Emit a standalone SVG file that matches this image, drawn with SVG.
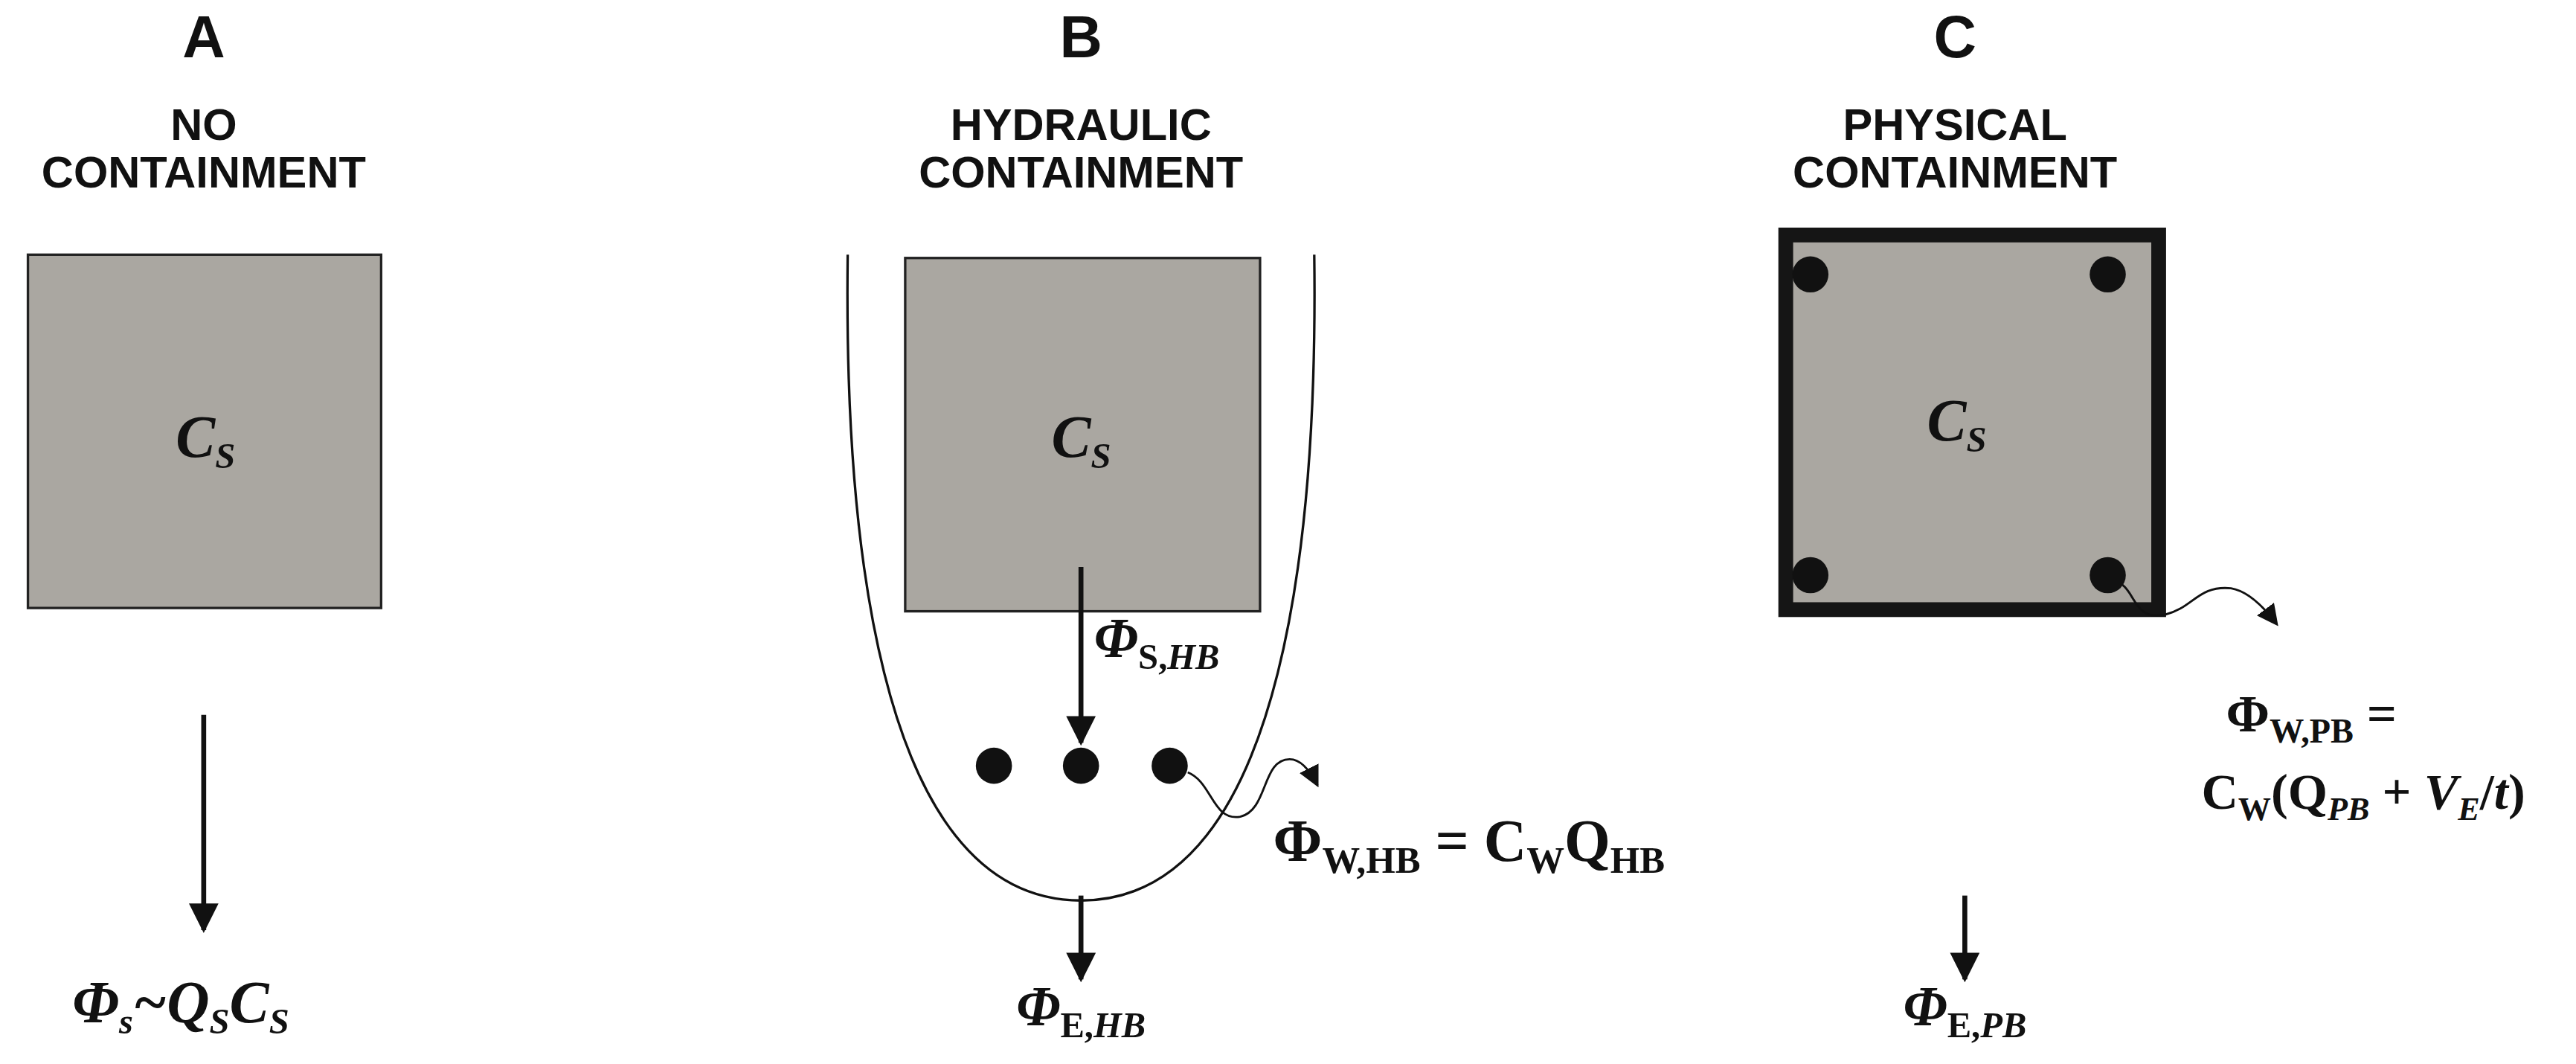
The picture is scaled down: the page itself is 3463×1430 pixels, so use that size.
<svg xmlns="http://www.w3.org/2000/svg" width="3463" height="1430" viewBox="0 0 3463 1430">
<style>
.t{font-family:"Liberation Sans",Arial,sans-serif;font-weight:bold;fill:#111;text-anchor:middle}
.m{font-family:"Liberation Serif","DejaVu Serif",serif;font-weight:bold;fill:#111}
.box{fill:#aaa7a1;stroke:#222;stroke-width:1.5}
.ar{stroke:#111;stroke-width:3;fill:none;marker-end:url(#ah)}
.sq{stroke:#111;stroke-width:1.3;fill:none;marker-end:url(#ah2)}
</style>
<defs>
<marker id="ah" viewBox="0 0 10 10" refX="9" refY="5" markerWidth="6" markerHeight="6" orient="auto" markerUnits="strokeWidth"><path d="M0,0 L10,5 L0,10 z" fill="#111"/></marker>
<marker id="ah2" viewBox="0 0 10 10" refX="9" refY="5" markerWidth="10" markerHeight="10" orient="auto" markerUnits="strokeWidth"><path d="M0,0 L10,5 L0,10 z" fill="#111"/></marker>
</defs>
<rect width="3463" height="1430" fill="#fff"/>
<g transform="scale(2.2085)">
<g id="panelA">
<text class="t" x="124" y="35" font-size="36">A</text>
<text class="t" x="124" y="85" font-size="27">NO</text>
<text class="t" x="124" y="114" font-size="27">CONTAINMENT</text>
<rect class="box" x="17" y="155" width="215" height="215"/>
<text class="m" x="107" y="278" font-size="36" font-style="italic">C<tspan font-size="22" dy="7">S</tspan></text>
<text class="m" x="110" y="622" font-size="36" text-anchor="middle" font-style="italic">Φ<tspan font-size="22" dy="7">s</tspan><tspan dy="-7">~Q</tspan><tspan font-size="22" dy="7">S</tspan><tspan dy="-7">C</tspan><tspan font-size="22" dy="7">S</tspan></text>
</g>
<g id="panelB">
<text class="t" x="658" y="35" font-size="36">B</text>
<text class="t" x="658" y="85" font-size="27">HYDRAULIC</text>
<text class="t" x="658" y="114" font-size="27">CONTAINMENT</text>
<path d="M516,155 C514,310 530,548 658,548 C786,548 802,310 800,155" fill="none" stroke="#111" stroke-width="1.5"/>
<rect class="box" x="551" y="157" width="216" height="215"/>
<text class="m" x="640" y="278" font-size="36" font-style="italic">C<tspan font-size="22" dy="7">S</tspan></text>
<text class="m" x="666" y="400" font-size="34" font-style="italic">Φ<tspan font-size="22" dy="7" font-style="normal">S,</tspan><tspan font-size="22">HB</tspan></text>
<circle cx="605" cy="466" r="11" fill="#111"/><circle cx="658" cy="466" r="11" fill="#111"/><circle cx="712" cy="466" r="11" fill="#111"/>
<text class="m" x="775" y="524" font-size="36">Φ<tspan font-size="23" dy="7">W,HB</tspan><tspan dy="-7"> = C</tspan><tspan font-size="23" dy="7">W</tspan><tspan dy="-7">Q</tspan><tspan font-size="23" dy="7">HB</tspan></text>
<text class="m" x="658" y="624" font-size="34" text-anchor="middle" font-style="italic">Φ<tspan font-size="22" dy="7" font-style="normal">E,</tspan><tspan font-size="22">HB</tspan></text>
</g>
<g id="panelC">
<text class="t" x="1190" y="35" font-size="36">C</text>
<text class="t" x="1190" y="85" font-size="27">PHYSICAL</text>
<text class="t" x="1190" y="114" font-size="27">CONTAINMENT</text>
<rect x="1087" y="143" width="227" height="228" fill="#aaa7a1" stroke="#151515" stroke-width="9"/>
<circle cx="1102" cy="167" r="11" fill="#111"/><circle cx="1283" cy="167" r="11" fill="#111"/>
<circle cx="1102" cy="350" r="11" fill="#111"/><circle cx="1283" cy="350" r="11" fill="#111"/>
<text class="m" x="1173" y="268" font-size="36" font-style="italic">C<tspan font-size="22" dy="7">S</tspan></text>
<text class="m" x="1355" y="445" font-size="32">Φ<tspan font-size="21" dy="7">W,PB</tspan><tspan dy="-7"> =</tspan></text>
<text class="m" x="1340" y="492" font-size="31">C<tspan font-size="20" dy="7">W</tspan><tspan dy="-7">(Q</tspan><tspan font-size="20" dy="7" font-style="italic">PB</tspan><tspan dy="-7"> + </tspan><tspan font-style="italic">V</tspan><tspan font-size="20" dy="7" font-style="italic">E</tspan><tspan dy="-7">/</tspan><tspan font-style="italic">t</tspan>)</text>
<text class="m" x="1196" y="624" font-size="34" text-anchor="middle" font-style="italic">Φ<tspan font-size="22" dy="7" font-style="normal">E,</tspan><tspan font-size="22">PB</tspan></text>
</g>
<g id="connectors">
<line class="ar" x1="124" y1="435" x2="124" y2="566"/>
<line class="ar" x1="658" y1="345" x2="658" y2="452"/>
<line class="ar" x1="658" y1="545" x2="658" y2="596"/>
<line class="ar" x1="1196" y1="545" x2="1196" y2="596"/>
<path class="sq" d="M723,470 C738,476 738,500 755,497 C772,493 768,462 785,462 C792,462 798,470 802,478"/>
<path class="sq" d="M1292,356 C1300,362 1300,378 1318,374 C1335,370 1338,356 1358,358 C1370,360 1380,372 1386,380"/>
</g>
</g>
</svg>
